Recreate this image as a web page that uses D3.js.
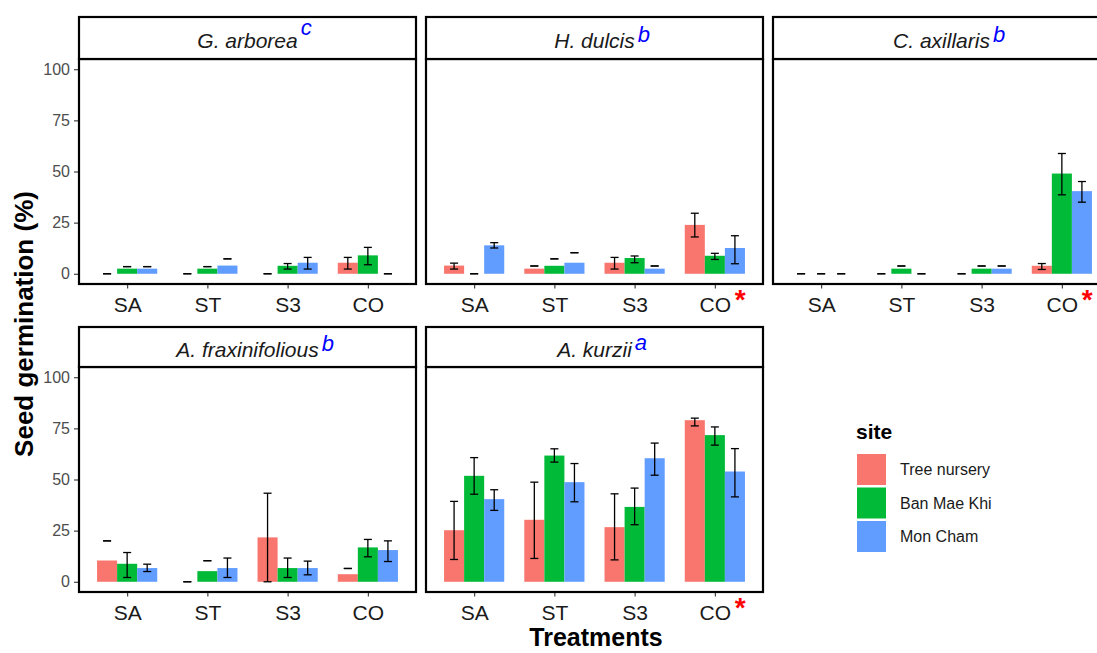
<!DOCTYPE html>
<html>
<head>
<meta charset="utf-8">
<script src="https://cdn.jsdelivr.net/npm/d3@7"></script>
<style>
  html, body { margin: 0; padding: 0; background: #fff; }
  svg { display: block; font-family: "Liberation Sans", Arial, sans-serif; }
</style>
</head>
<body>
<svg id="chart" width="1097" height="653"></svg>
<script>
// ---------------- DATA ----------------
const treatments = ["SA", "ST", "S3", "CO"];
const sites = ["Tree nursery", "Ban Mae Khi", "Mon Cham"];
const species = ["G. arborea", "H. dulcis", "C. axillaris", "A. fraxinifolious", "A. kurzii"];
const speciesLetters = ["c", "b", "b", "b", "a"];
const speciesStarred = [false, true, true, false, true];
const yTicks = [0, 25, 50, 75, 100];

// values: rows = treatments (SA, ST, S3, CO), columns = sites
const meanGA = [[0, 2.5, 2.5], [0, 2.5, 4], [0, 3.9, 5.4], [5.4, 9, 0]];
const loGA   = [[0, 3.5, 3.5], [0, 3.5, 7.3], [0, 2.3, 2.3], [2.3, 4.4, 0]];
const hiGA   = [[0, 3.5, 3.5], [0, 3.5, 7.3], [0, 5, 8], [8, 12.9, 0]];

const meanHD = [[4, 0, 13.9], [2.5, 3.9, 5.4], [5.4, 7.7, 2.5], [23.9, 8.8, 12.6]];
const loHD   = [[2.3, 0, 12.6], [3.8, 7.3, 10.3], [2.3, 5.4, 3.8], [18, 7, 4.9]];
const hiHD   = [[5.2, 0, 15.2], [3.8, 7.3, 10.3], [8, 8.7, 3.8], [29.6, 10, 18.6]];

const meanCA = [[0, 0, 0], [0, 2.5, 0], [0, 2.5, 2.5], [3.9, 49, 40.4]];
const loCA   = [[0, 0, 0], [0, 3.8, 0], [0, 3.8, 3.8], [2.1, 38.6, 35]];
const hiCA   = [[0, 0, 0], [0, 3.8, 0], [0, 3.8, 3.8], [5, 58.8, 45.1]];

const meanAF = [[10.4, 8.8, 6.7], [0, 5.2, 6.7], [21.7, 6.7, 6.7], [3.7, 16.8, 15.5]];
const loAF   = [[20, 2.1, 5.0], [0, 10.3, 2.1], [0, 2.1, 3.4], [6.5, 12.2, 9.9]];
const hiAF   = [[20, 14.3, 8.6], [0, 10.3, 11.6], [43.3, 11.6, 10.1], [6.5, 20.7, 20]];

const meanAK = [[25.2, 51.8, 40.4], [30.3, 61.7, 48.7], [26.7, 36.6, 60.4], [79, 71.7, 53.9]];
const loAK   = [[10.9, 42.8, 34.9], [11.4, 58.5, 39.1], [10.7, 27.9, 52.1], [76.2, 66.8, 41.5]];
const hiAK   = [[39.3, 60.7, 45], [48.7, 65, 57.8], [43, 45.8, 67.8], [80, 75.7, 65.1]];

const speciesMeans = [meanGA, meanHD, meanCA, meanAF, meanAK];
const speciesLo = [loGA, loHD, loCA, loAF, loAK];
const speciesHi = [hiGA, hiHD, hiCA, hiAF, hiAK];

// ---------------- STYLE / LAYOUT ----------------
const colors = ["#F8766D", "#00BA38", "#619CFF"];
const panelW = 337;
const colX = [79, 426, 773];
const rows = [
  { stripTop: 17, stripBot: 59, plotBot: 284 },
  { stripTop: 327, stripBot: 367, plotBot: 592 }
];
const supShift = { c: -13, b: -6, a: -7 };

const svg = d3.select("#chart");
const color = d3.scaleOrdinal().domain(sites).range(colors);
const siteOffset = d3.scaleBand().domain(sites).range([-0.375, 0.375]).padding(0);

species.forEach((sp, k) => {
  const row = rows[Math.floor(k / 3)];
  const x0 = colX[k % 3];
  const x = d3.scaleLinear().domain([-0.6, treatments.length - 1 + 0.6]).range([x0, x0 + panelW]);
  const y = d3.scaleLinear().domain([-5, 105]).range([row.plotBot, row.stripBot]);
  const unit = x(1) - x(0);
  const g = svg.append("g");

  const recs = [];
  treatments.forEach((t, i) => sites.forEach((s, j) => {
    recs.push({ t: i, s, mean: speciesMeans[k][i][j], lo: speciesLo[k][i][j], hi: speciesHi[k][i][j] });
  }));

  g.append("rect").attr("x", x0).attr("y", row.stripBot).attr("width", panelW)
    .attr("height", row.plotBot - row.stripBot).attr("fill", "#fff");

  // bars
  g.selectAll("rect.bar").data(recs.filter(d => d.mean > 0)).join("rect")
    .attr("class", "bar")
    .attr("x", d => x(d.t + siteOffset(d.s)))
    .attr("width", siteOffset.bandwidth() * unit)
    .attr("y", d => y(d.mean))
    .attr("height", d => y(0) - y(d.mean))
    .attr("fill", d => color(d.s));

  // error bars
  const cap = 0.05;
  const eb = g.selectAll("g.eb").data(recs).join("g").attr("class", "eb")
    .attr("stroke", "#000").attr("stroke-width", 1.3).attr("fill", "none");
  eb.each(function (d) {
    const cx = d.t + siteOffset(d.s) + siteOffset.bandwidth() / 2;
    const e = d3.select(this);
    if (d.hi > d.lo) {
      e.append("line").attr("x1", x(cx)).attr("x2", x(cx)).attr("y1", y(d.lo)).attr("y2", y(d.hi));
    }
    e.append("line").attr("x1", x(cx - cap)).attr("x2", x(cx + cap)).attr("y1", y(d.lo)).attr("y2", y(d.lo));
    e.append("line").attr("x1", x(cx - cap)).attr("x2", x(cx + cap)).attr("y1", y(d.hi)).attr("y2", y(d.hi));
  });

  // panel border
  g.append("rect").attr("x", x0).attr("y", row.stripBot).attr("width", panelW)
    .attr("height", row.plotBot - row.stripBot).attr("fill", "none")
    .attr("stroke", "#000").attr("stroke-width", 2.2);

  // strip
  g.append("rect").attr("x", x0).attr("y", row.stripTop).attr("width", panelW)
    .attr("height", row.stripBot - row.stripTop).attr("fill", "#fff")
    .attr("stroke", "#000").attr("stroke-width", 2.2);
  const cxStrip = x0 + panelW / 2;
  const base = (row.stripTop + row.stripBot) / 2 + 10;
  const st = g.append("text").attr("x", cxStrip).attr("y", base)
    .attr("text-anchor", "middle").attr("font-size", 21).attr("font-style", "italic")
    .attr("fill", "#1A1A1A").text(sp);
  const tw = st.node().getComputedTextLength();
  g.append("text").attr("x", cxStrip + tw / 2 + 3).attr("y", base + (supShift[speciesLetters[k]] || -7))
    .attr("font-size", 22).attr("font-style", "italic").attr("fill", "#0000FF")
    .text(speciesLetters[k]);

  // x axis
  const xa = g.append("g").attr("transform", `translate(0,${row.plotBot + 1})`)
    .call(d3.axisBottom(x).tickValues(d3.range(treatments.length)).tickFormat(i => treatments[i])
      .tickSize(3.5).tickPadding(6));
  xa.select(".domain").remove();
  xa.selectAll(".tick line").attr("stroke", "#333").attr("stroke-width", 1.1);
  xa.selectAll(".tick text").attr("font-size", 21).attr("fill", "#1A1A1A")
    .attr("font-family", "Liberation Sans, Arial, sans-serif").attr("dy", null).attr("y", 27);
  if (speciesStarred[k]) {
    const cx = x(treatments.length - 1);
    g.append("text").attr("x", cx + 20).attr("y", row.plotBot + 25)
      .attr("font-size", 28).attr("font-weight", "bold").attr("fill", "#FF0000").text("*");
  }

  // y axis (left column only)
  if (k % 3 === 0) {
    const ya = g.append("g").attr("transform", `translate(${x0 - 1},0)`)
      .call(d3.axisLeft(y).tickValues(yTicks).tickSize(4).tickPadding(4));
    ya.select(".domain").remove();
    ya.selectAll(".tick line").attr("stroke", "#333").attr("stroke-width", 1.1);
    ya.selectAll(".tick text").attr("font-size", 16).attr("fill", "#4D4D4D")
      .attr("font-family", "Liberation Sans, Arial, sans-serif");
  }
});

// axis titles
svg.append("text").attr("x", 596).attr("y", 646).attr("text-anchor", "middle")
  .attr("font-size", 25).attr("font-weight", "bold").attr("fill", "#000").text("Treatments");
svg.append("text").attr("transform", "translate(33,324) rotate(-90)").attr("text-anchor", "middle")
  .attr("font-size", 26).attr("font-weight", "bold").attr("fill", "#000").text("Seed germination (%)");

// legend
const lg = svg.append("g");
lg.append("text").attr("x", 856).attr("y", 439).attr("font-size", 21).attr("font-weight", "bold")
  .attr("fill", "#000").text("site");
const items = lg.selectAll("g.item").data(sites).join("g").attr("class", "item")
  .attr("transform", (d, i) => `translate(857,${454 + i * 33.5})`);
items.append("rect").attr("width", 29).attr("height", 31).attr("fill", d => color(d));
items.append("text").attr("x", 43).attr("y", 15.5).attr("dominant-baseline", "central")
  .attr("font-size", 16).attr("fill", "#1A1A1A").text(d => d);
</script>
</body>
</html>
